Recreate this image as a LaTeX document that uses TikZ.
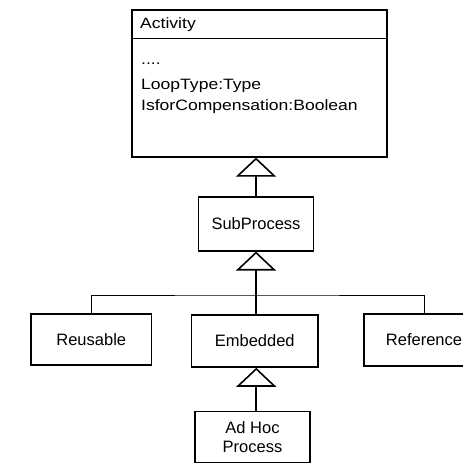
\documentclass[tikz,border=0pt]{standalone}
\usepackage{fontspec}
\setmainfont{Liberation Sans}
\newfontfamily\attrfont[FakeStretch=1.17]{Liberation Sans}
\usetikzlibrary{arrows.meta}

\tikzset{
  classbox/.style={draw, line width=1.6pt, inner sep=0pt, align=center,
    font=\fontsize{16.5}{19.5}\selectfont},
  attr/.style={anchor=base west, inner sep=0pt, font=\attrfont\fontsize{15}{18}\selectfont},
  gen/.style={line width=1.8pt,
    -{Triangle[open, length=19pt, width=40pt, line width=1.6pt]}},
  busline/.style={line width=0.9pt}
}

\begin{document}
\begin{tikzpicture}[x=1pt, y=-1pt]
  \useasboundingbox (0,0) rectangle (463,466);
  \clip (0,0) rectangle (463,466);

  % class with attribute compartment
  \node[classbox, minimum width=255pt, minimum height=147pt, anchor=north west] (act) at (131,9) {};
  \draw[line width=1.4pt] ([yshift=-29.5pt]act.north west) -- ([yshift=-29.5pt]act.north east);
  \node[attr] (actname) at (140,28) {Activity};
  \node[attr] (dots) at (141,64) {....};
  \node[attr] (loop) at (141,89) {LoopType:Type};
  \node[attr] (comp) at (141,110) {IsforCompensation:Boolean};

  % subclasses
  \node[classbox, minimum width=115pt, minimum height=53.5pt] (sub) at (256,224) {SubProcess};
  \node[classbox, minimum width=120.5pt, minimum height=51.5pt] (reu) at (91.25,339.5) {Reusable};
  \node[classbox, minimum width=126.5pt, minimum height=52pt] (emb) at (254.75,341) {Embedded};
  \node[classbox, minimum width=120pt, minimum height=52pt] (ref) at (424,340) {Reference};
  \node[classbox, minimum width=115pt, minimum height=51pt] (adhoc) at (252.5,437) {Ad Hoc\\Process};

  % generalisation links
  \draw[gen] (sub.north) -- (sub.north |- act.south);
  \coordinate (bus) at (256,295);
  \draw[busline] (reu.north) |- (bus) -| (ref.north);
  \draw[gen] (sub.south |- emb.north) -- (sub.south);
  \draw[gen] ([xshift=1.5pt]emb.south |- adhoc.north) -- ([xshift=1.5pt]emb.south);
\end{tikzpicture}
\end{document}
